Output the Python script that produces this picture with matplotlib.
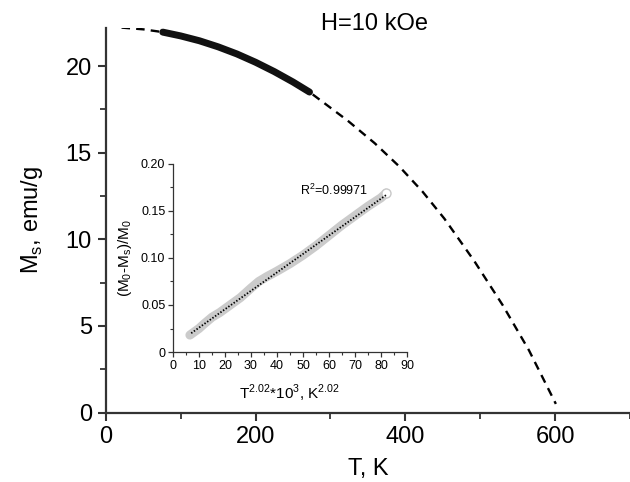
import matplotlib
matplotlib.use("Agg")
import matplotlib.pyplot as plt
from matplotlib.ticker import MultipleLocator

plt.rcParams['font.family'] = ['Liberation Sans', 'DejaVu Sans']

# Main panel: extrapolated (dashed) curve and measured (solid) curve
dash_T = [21, 50, 76, 125, 175, 225, 272, 323, 359, 392, 423, 452, 492, 530, 565, 601]
dash_M = [22.22, 22.12, 21.96, 21.46, 20.70, 19.68, 18.5, 16.85, 15.55, 14.2, 12.75, 11.2, 8.75, 6.2, 3.6, 0.5]
meas_T = [76, 100, 125, 150, 175, 200, 225, 250, 272]
meas_M = [21.96, 21.74, 21.46, 21.11, 20.70, 20.22, 19.68, 19.08, 18.5]

# Inset: (M0-Ms)/M0 vs T^2.02*1e3
ins_x = [6.5, 8, 10, 12, 15, 18, 22, 26, 30, 33, 36, 40, 45, 50, 55, 60, 65, 70, 75, 80, 82]
ins_y = [0.018, 0.021, 0.025, 0.030, 0.037, 0.042, 0.050, 0.058, 0.068, 0.075, 0.080,
         0.086, 0.094, 0.103, 0.113, 0.124, 0.135, 0.145, 0.155, 0.164, 0.169]
fit_x = [7, 82]
fit_y = [0.020, 0.167]

main_xticks = [0, 200, 400, 600]
main_yticks = [0, 5, 10, 15, 20]
ins_xticks = [0, 10, 20, 30, 40, 50, 60, 70, 80, 90]
ins_yticks = [0, 0.05, 0.10, 0.15, 0.20]
ins_yticklabels = ['0', '0.05', '0.10', '0.15', '0.20']

fig = plt.figure(figsize=(6.3, 4.82), dpi=100)
ax = fig.add_axes([0.168, 0.144, 0.832, 0.798])
axc = '#333333'

ax.plot(dash_T, dash_M, color='black', lw=1.7, linestyle=(0, (3.6, 2.6)))
ax.plot(meas_T, meas_M, color='#111111', lw=5, solid_capstyle='round')

ax.set_xlim(0, 700)
ax.set_ylim(0, 22.2)
ax.set_xticks(main_xticks)
ax.set_yticks(main_yticks)
ax.xaxis.set_minor_locator(MultipleLocator(100))
ax.yaxis.set_minor_locator(MultipleLocator(2.5))
for s in ['top', 'right']:
    ax.spines[s].set_visible(False)
for s in ['left', 'bottom']:
    ax.spines[s].set_linewidth(1.6)
    ax.spines[s].set_color(axc)
ax.tick_params(which='major', direction='out', length=6, width=1.5, color=axc,
               labelsize=17, pad=4)
ax.tick_params(which='minor', direction='out', length=4, width=1.3, color=axc)
ax.set_xlabel('T, K', fontsize=17, labelpad=7)
ax.set_ylabel('M$_\\mathregular{s}$, emu/g', fontsize=17, labelpad=15)
ax.text(359, 22.42, 'H=10 kOe', fontsize=17, ha='center', va='center')

# Inset
ai = fig.add_axes([0.2746, 0.2697, 0.3714, 0.3901])
ai.plot(ins_x, ins_y, color='#cbcbcb', lw=6.5, solid_capstyle='round', zorder=2)
ai.plot([ins_x[-1]], [ins_y[-1]], 'o', ms=6.5, mfc='white', mec='#c8c8c8', mew=1, zorder=3)
ai.plot(fit_x, fit_y, color='black', lw=1.3, linestyle=(0, (0.8, 1.0)), zorder=4)
ai.set_xlim(0, 90)
ai.set_ylim(0, 0.2)
ai.set_xticks(ins_xticks)
ai.set_yticks(ins_yticks)
ai.set_yticklabels(ins_yticklabels)
ai.xaxis.set_minor_locator(MultipleLocator(5))
ai.yaxis.set_minor_locator(MultipleLocator(0.025))
for s in ['top', 'right']:
    ai.spines[s].set_visible(False)
for s in ['left', 'bottom']:
    ai.spines[s].set_linewidth(0.9)
    ai.spines[s].set_color(axc)
ai.patch.set_alpha(0)
ai.tick_params(which='major', direction='out', length=3.5, width=0.9, color=axc,
               labelsize=9, pad=2)
ai.tick_params(which='minor', direction='out', length=2, width=0.8, color=axc)
ai.set_xlabel('T$^\\mathregular{2.02}$*10$^\\mathregular{3}$, K$^\\mathregular{2.02}$', fontsize=11, labelpad=8)
ai.set_ylabel('(M$_\\mathregular{0}$-M$_\\mathregular{s}$)/M$_\\mathregular{0}$', fontsize=11, labelpad=5)
ai.text(49, 0.172, 'R$^\\mathregular{2}$=0.99971', fontsize=9, ha='left', va='center')

fig.savefig('out.png', dpi=100)
